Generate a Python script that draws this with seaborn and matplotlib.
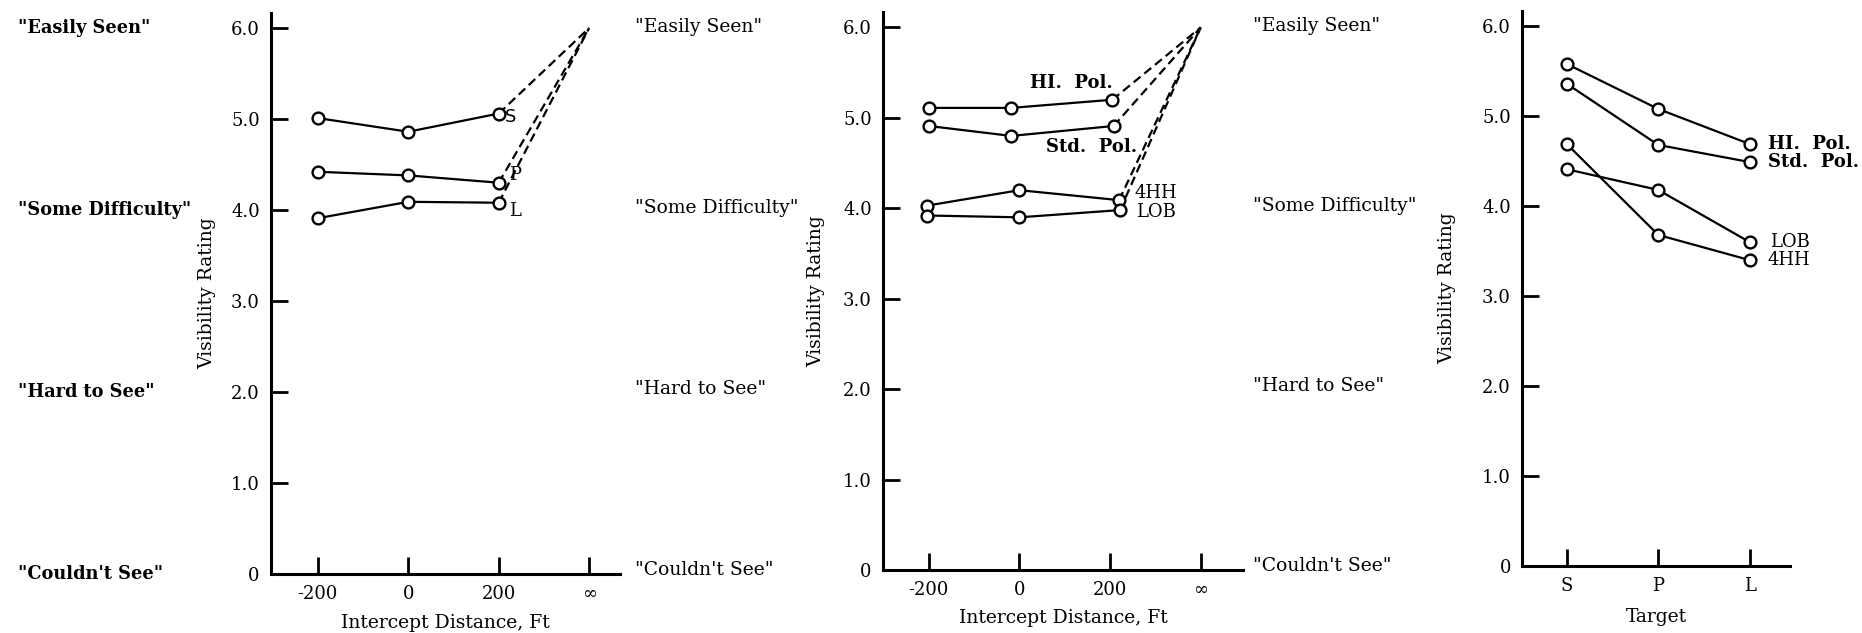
import matplotlib
matplotlib.use("Agg")
import matplotlib.pyplot as plt
import matplotlib.transforms as mtransforms
import pandas as pd
import seaborn as sns

# verbal anchors of the rating scale
scale_words = ['"Easily Seen"', '"Some Difficulty"', '"Hard to See"', '"Couldn\'t See"']
scale_levels = [6.0, 4.0, 2.0, 0.0]
rating_ticks = [0, 1, 2, 3, 4, 5, 6]
rating_labels = ["0", "1.0", "2.0", "3.0", "4.0", "5.0", "6.0"]

# intercept distance axis (infinity drawn at the 400 slot)
dist_ticks = [-200, 0, 200, 400]
dist_labels = ["-200", "0", "200", "\u221e"]
inf_pos = 400
inf_rating = 6.0

# panel 1 - by target
p1_x = [-200, 0, 200]
p1_S = [5.01, 4.86, 5.06]
p1_P = [4.42, 4.38, 4.30]
p1_L = [3.91, 4.09, 4.08]

# panel 2 - by vest
p2_hi_x = [-200, -18, 205]
p2_hi = [5.11, 5.11, 5.20]
p2_std_x = [-200, -18, 208]
p2_std = [4.91, 4.80, 4.91]
p2_4hh_x = [-203, 0, 220]
p2_4hh = [4.03, 4.20, 4.09]
p2_lob_x = [-203, 0, 222]
p2_lob = [3.92, 3.90, 3.98]

# panel 3 - by target, per vest
targets = ["S", "P", "L"]
p3_hi = [5.58, 5.08, 4.69]
p3_std = [5.36, 4.68, 4.49]
p3_4hh = [4.69, 3.68, 3.40]
p3_lob = [4.41, 4.18, 3.60]

sns.set_style("ticks")
plt.rcParams["font.family"] = ["DejaVu Serif"]
plt.rcParams["text.color"] = "black"
plt.rcParams["axes.labelcolor"] = "black"

LW = 1.6
FS = 13


def draw_series(ax, xs, ys, to_inf=False):
    if to_inf:
        tail = pd.DataFrame({"x": [xs[-1], inf_pos], "y": [ys[-1], inf_rating]})
        sns.lineplot(data=tail, x="x", y="y", color="black", lw=LW, sort=False,
                     linestyle=(0, (4, 2.2)), ax=ax, zorder=2)
    df = pd.DataFrame({"x": xs, "y": ys})
    sns.lineplot(data=df, x="x", y="y", color="black", lw=LW, sort=False,
                 marker="o", markersize=8.5, markerfacecolor="white",
                 markeredgecolor="black", markeredgewidth=1.7, ax=ax, zorder=3)


def style_axes(ax, words_x, bold_words, ylab_x, xlab, xlab_y):
    sns.despine(ax=ax)
    for side in ["left", "bottom"]:
        ax.spines[side].set_linewidth(2.2)
        ax.spines[side].set_color("black")
    ax.set_ylim(0, 6.17)
    ax.set_yticks(rating_ticks)
    ax.set_yticklabels(rating_labels)
    ax.tick_params(axis="both", direction="in", length=12, width=2,
                   labelsize=FS, pad=8, colors="black", bottom=True, left=True)
    ax.set_ylabel("Visibility Rating", fontsize=13.5)
    ax.yaxis.set_label_coords(ylab_x, 0.5)
    ax.set_xlabel(xlab, fontsize=13.5)
    ax.xaxis.set_label_coords(0.5, xlab_y)
    trans = mtransforms.blended_transform_factory(ax.transAxes, ax.transData)
    for word, lvl in zip(scale_words, scale_levels):
        ax.text(words_x, lvl, word, transform=trans, ha="left", va="center",
                fontsize=12.8 if bold_words else 13.5,
                fontweight="bold" if bold_words else "normal")


fig = plt.figure(figsize=(18.62, 6.33), dpi=100)
ax1 = fig.add_axes([0.1455, 0.0932, 0.1874, 0.887])
ax2 = fig.add_axes([0.4742, 0.0995, 0.1933, 0.8815])
ax3 = fig.add_axes([0.8174, 0.1058, 0.1439, 0.877])

# panel 1
for ys in [p1_S, p1_P, p1_L]:
    draw_series(ax1, p1_x, ys, to_inf=True)
ax1.set_xlim(-304, 468)
ax1.set_xticks(dist_ticks)
ax1.set_xticklabels(dist_labels)
ax1.text(214, 5.02, "S", fontsize=FS, family="DejaVu Sans", va="center")
ax1.text(222, 4.38, "P", fontsize=FS, va="center")
ax1.text(222, 3.99, "L", fontsize=FS, va="center")
style_axes(ax1, -0.725, True, -0.158, "Intercept Distance, Ft", -0.071)

# panel 2
for xs, ys in [(p2_hi_x, p2_hi), (p2_std_x, p2_std), (p2_4hh_x, p2_4hh), (p2_lob_x, p2_lob)]:
    draw_series(ax2, xs, ys, to_inf=True)
ax2.set_xlim(-301, 493)
ax2.set_xticks(dist_ticks)
ax2.set_xticklabels(dist_labels)
ax2.text(115, 5.39, "HI.  Pol.", fontsize=FS, ha="center", va="center", fontweight="bold")
ax2.text(159, 4.68, "Std.  Pol.", fontsize=FS, ha="center", va="center", fontweight="bold")
ax2.text(254, 4.17, "4HH", fontsize=FS, va="center")
ax2.text(257, 3.96, "LOB", fontsize=FS, va="center")
style_axes(ax2, -0.689, False, -0.161, "Intercept Distance, Ft", -0.070)

# panel 3
tpos = list(range(len(targets)))
for ys in [p3_hi, p3_std, p3_4hh, p3_lob]:
    draw_series(ax3, tpos, ys)
ax3.set_xlim(-0.49, 2.44)
ax3.set_xticks(tpos)
ax3.set_xticklabels(targets)
ax3.text(2.2, p3_hi[-1], "HI.  Pol.", fontsize=FS, va="center", fontweight="bold")
ax3.text(2.2, p3_std[-1], "Std.  Pol.", fontsize=FS, va="center", fontweight="bold")
ax3.text(2.22, p3_lob[-1], "LOB", fontsize=FS, va="center")
ax3.text(2.2, p3_4hh[-1], "4HH", fontsize=FS, va="center")
style_axes(ax3, -1.004, False, -0.246, "Target", -0.076)

fig.savefig("out.png", dpi=100)
